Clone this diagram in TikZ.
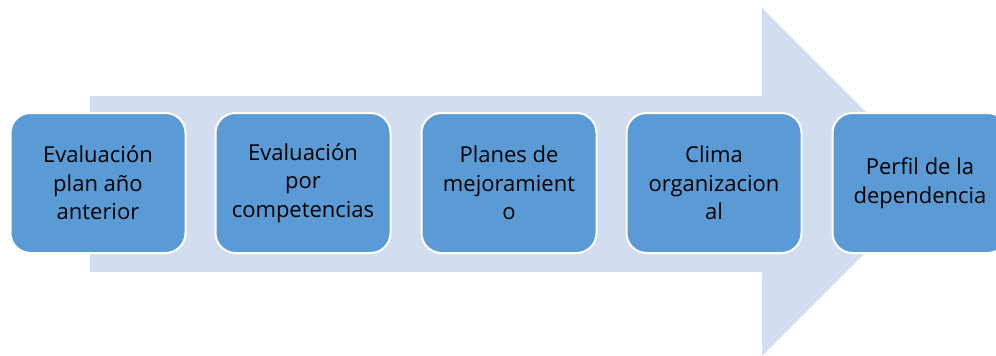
\documentclass[tikz,border=0pt]{standalone}
\usepackage{fontspec}
\setmainfont{Open Sans}
\definecolor{arrowfill}{RGB}{210,222,239}
\definecolor{boxfill}{RGB}{91,155,213}
\begin{document}
\begin{tikzpicture}[x=1pt,y=-1pt,
  stepbox/.style={draw=white, line width=2pt, fill=boxfill, rounded corners=20pt,
    minimum width=175pt, minimum height=140pt, align=center, inner sep=0pt,
    font=\fontsize{22}{28.5}\selectfont, text=black}]
\useasboundingbox (0,0) rectangle (996,356);
\clip (0,0) rectangle (996,356);
\fill[arrowfill] (90,96) -- (762,96) -- (762,8) -- (936,182) -- (762,356) -- (762,272) -- (90,272) -- cycle;
\node[stepbox] (b1) at (98,183) {Evaluación\\plan año\\anterior};
\node[stepbox] (b2) at (303,183) {Evaluación\\por\\competencias};
\node[stepbox] (b3) at (509,183) {Planes de\\mejoramient\\o};
\node[stepbox] (b4) at (714,183) {Clima\\organizacion\\al};
\node[stepbox] (b5) at (920,183) {Perfil de la\\dependencia};
\end{tikzpicture}
\end{document}
